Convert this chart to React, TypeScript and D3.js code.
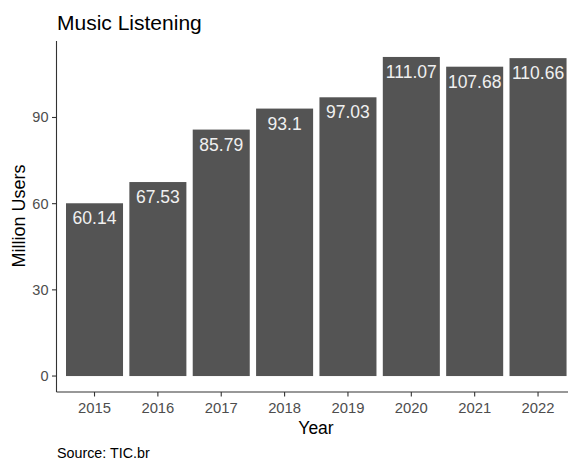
import React from "react";
import * as d3 from "d3";

const years = ["2015", "2016", "2017", "2018", "2019", "2020", "2021", "2022"];
const users = [60.14, 67.53, 85.79, 93.1, 97.03, 111.07, 107.68, 110.66];
const yTicks = [0, 30, 60, 90];
const valueLabels = ["60.14", "67.53", "85.79", "93.1", "97.03", "111.07", "107.68", "110.66"];

const W = 568;
const H = 464;
const left = 56.5;
const top = 41;
const bottom = 392;
const font = "'Liberation Sans', Arial, sans-serif";

export default function App() {
  const step = 63.36;
  const x = d3
    .scaleBand<string>()
    .domain(years)
    .range([left, left + 8.2 * step])
    .paddingInner(0.1)
    .paddingOuter(0.15);
  const maxV = d3.max(users) as number;
  const pad = maxV * 0.05;
  const y = d3.scaleLinear().domain([-pad, maxV + pad]).range([bottom, top]);

  return (
    <svg width={W} height={H} style={{ position: "absolute", left: 0, top: 0, background: "#fff" }} fontFamily={font}>
      <text x={57} y={30} fontSize={21} fill="#000">Music Listening</text>
      {years.map((yr, i) => (
        <g key={yr}>
          <rect
            x={x(yr)}
            y={y(users[i])}
            width={x.bandwidth()}
            height={y(0) - y(users[i])}
            fill="#545454"
          />
          <text
            x={(x(yr) as number) + x.bandwidth() / 2}
            y={y(users[i]) + 21}
            textAnchor="middle"
            fontSize={17.5}
            fill="#f0f0f0"
          >
            {valueLabels[i]}
          </text>
        </g>
      ))}
      {/* y axis */}
      <line x1={left} x2={left} y1={top} y2={bottom} stroke="#333" strokeWidth={1.1} />
      {yTicks.map((t) => (
        <g key={t}>
          <line x1={left - 4.5} x2={left} y1={y(t)} y2={y(t)} stroke="#333" strokeWidth={1.1} />
          <text x={left - 8} y={y(t) + 5} textAnchor="end" fontSize={14.5} fill="#4d4d4d">
            {t}
          </text>
        </g>
      ))}
      {/* x axis */}
      <line x1={left} x2={W} y1={bottom} y2={bottom} stroke="#333" strokeWidth={1.1} />
      {years.map((yr) => {
        const cx = (x(yr) as number) + x.bandwidth() / 2;
        return (
          <g key={yr}>
            <line x1={cx} x2={cx} y1={bottom} y2={bottom + 4.5} stroke="#333" strokeWidth={1.1} />
            <text x={cx} y={413} textAnchor="middle" fontSize={14.8} fill="#4d4d4d">
              {yr}
            </text>
          </g>
        );
      })}
      <text x={316} y={434} textAnchor="middle" fontSize={17.5} fill="#000">Year</text>
      <text
        transform={`translate(25, 216) rotate(-90)`}
        textAnchor="middle"
        fontSize={18}
        fill="#000"
      >
        Million Users
      </text>
      <text x={57} y={458} fontSize={14.3} fill="#000">Source: TIC.br</text>
    </svg>
  );
}
